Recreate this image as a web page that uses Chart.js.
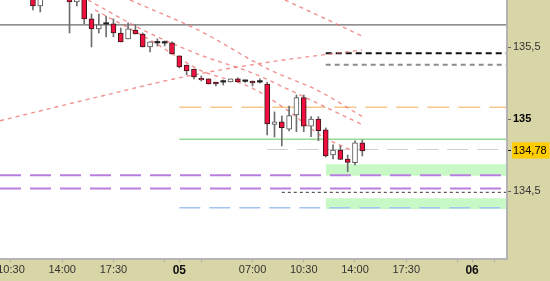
<!DOCTYPE html>
<html><head><meta charset="utf-8">
<script src="https://cdn.jsdelivr.net/npm/chart.js@4.4.1/dist/chart.umd.min.js"></script>
<style>html,body{margin:0;padding:0;background:#d8d5a6;overflow:hidden}</style>
</head><body>
<canvas id="c" width="550" height="281"></canvas>
<script>
// ---------- DATA ----------
const firstCandleSlot = 4.5; // 30-minute slots on the x axis
const opens  = [135.884,135.787,null,null,null,135.842,135.815,135.842,135.697,135.627,135.662,135.662,135.599,135.558,135.620,135.592,135.502,135.530,135.530,135.530,135.440,135.377,135.349,135.285,135.280,135.259,135.259,135.259,135.280,135.264,135.266,135.259,135.245,134.965,134.983,134.931,135.030,135.150,134.953,135.002,134.926,134.752,134.787,134.724,134.699,134.837];
const highs  = [135.912,135.884,null,null,null,135.870,135.856,135.856,135.731,135.731,135.717,135.697,135.634,135.669,135.655,135.599,135.537,135.558,135.544,135.537,135.440,135.377,135.349,135.301,135.280,135.259,135.273,135.280,135.287,135.273,135.266,135.280,135.259,135.051,135.023,135.092,135.169,135.169,135.018,135.018,134.940,134.822,134.815,134.752,134.851,134.856];
const lows   = [135.759,135.745,null,null,null,135.599,135.787,135.662,135.502,135.599,135.572,135.572,135.537,135.558,135.592,135.502,135.467,135.509,135.509,135.453,135.356,135.308,135.280,135.266,135.245,135.231,135.238,135.259,135.259,135.256,135.231,135.252,134.891,134.877,134.815,134.919,134.914,134.914,134.879,134.851,134.738,134.724,134.722,134.636,134.683,134.745];
const closes = [135.787,135.856,null,null,null,135.815,135.835,135.697,135.627,135.655,135.660,135.599,135.537,135.627,135.592,135.502,135.537,135.531,135.529,135.453,135.363,135.335,135.294,135.273,135.245,135.245,135.258,135.280,135.259,135.263,135.252,135.258,134.967,134.983,134.942,135.025,135.150,134.953,135.002,134.921,134.745,134.787,134.722,134.701,134.837,134.78];

const lastPrice = 134.78;
const yTickValues = [134.5, 134.78, 135, 135.5];

const xTickSlots  = [1.5, 8.5, 15.5, 22.5, 24.5, 27.5, 34.5, 41.5, 48.5, 55.5, 62.5, 64.5, 67.5];
const xTickLabels = ["10:30","14:00","17:30","","05","","07:00","10:30","14:00","17:30","","06",""];
const dateLabels  = ["05","06"];

// horizontal levels: price and the slot where each one starts
const levelPrices = [135.655, 135.458, 135.379, 135.083, 134.861, 134.79, 134.612, 134.52, 134.493, 134.386];
const levelStarts = [0, 44.5, 44.5, 24.5, 24.5, 36.5, 0, 0, 38.5, 24.5];
// zones: [top, bottom] and start slot
const zoneTops    = [134.687, 134.451];
const zoneBottoms = [134.608, 134.377];
const zoneStarts  = [44.5, 44.5];

// dashed trend curves (slot, price)
const riseSlots  = [0, 12.98, 25.27, 36.89, 49.45];
const risePrices = [134.990, 135.150, 135.296, 135.398, 135.481];
const fall1Slots  = [38.93, 40.98, 45.08, 49.45];
const fall1Prices = [135.828, 135.780, 135.683, 135.578];
const fall2Slots  = [17.76, 27.32, 36.89, 43.31, 49.59];
const fall2Prices = [135.828, 135.613, 135.342, 135.203, 135.016];
const fall3Slots  = [12.02, 19.54, 27.32, 34.15, 40.98, 49.59];
const fall3Prices = [135.828, 135.620, 135.447, 135.328, 135.169, 134.960];
const fall4Slots  = [12.98, 20.49, 27.32, 34.15, 39.21, 43.72, 48.5];
const fall4Prices = [135.759, 135.551, 135.342, 135.224, 135.065, 134.891, 134.773];

// ---------- STYLE / LAYOUT ----------
const X_MIN = 0, X_MAX = 69.13, Y_MIN = 134.037, Y_MAX = 135.828;
const levelStyles = [
  {c:'#6a6a6a', w:1.3, d:[]},
  {c:'#111111', w:2, d:[6,4]},
  {c:'#8c8c8c', w:2, d:[5,4]},
  {c:'#f7c78e', w:1.5, d:[22,9]},
  {c:'#93da93', w:1.5, d:[]},
  {c:'#cfcfcf', w:1, d:[21,9]},
  {c:'#b97ee0', w:2, d:[21,9]},
  {c:'#b97ee0', w:2, d:[21,9]},
  {c:'#333333', w:1, d:[3,3]},
  {c:'#a3c4f2', w:1.5, d:[21,9]}
];
const trendStyle = {borderColor:'rgba(236,110,110,0.75)', borderWidth:1.4, borderDash:[4,4]};

const idx = opens.map((o, i) => i).filter(i => opens[i] != null);
const wickData = idx.map(i => ({x: firstCandleSlot + i, y: [lows[i], highs[i]]}));
const bodyData = idx.map(i => ({x: firstCandleSlot + i, y: [Math.min(opens[i], closes[i]), Math.max(opens[i], closes[i])]}));
const kind = idx.map(i => (Math.abs(closes[i] - opens[i]) < 0.003 ? 0 : (closes[i] > opens[i] ? 1 : -1)));
const kindAt = ctx => kind[ctx.dataIndex] || 0;

const datasets = [];
datasets.push({type:'bar', label:'body', data: bodyData, grouped:false, barThickness:5, minBarLength:1.5, order:0, clip:0,
  backgroundColor: ctx => kindAt(ctx) === 1 ? '#ffffff' : (kindAt(ctx) === -1 ? '#f0103f' : '#222222'),
  borderColor: ctx => kindAt(ctx) === 1 ? '#555555' : (kindAt(ctx) === -1 ? '#3a1a1a' : '#222222'),
  borderWidth: ctx => kindAt(ctx) === 0 ? 0 : 1, borderSkipped:false});
datasets.push({type:'bar', label:'wick', data: wickData, grouped:false, barThickness:1, order:1, clip:0,
  backgroundColor:'#6e6e6e', borderWidth:0});

function curve(sl, pr){ return sl.map((s, i) => ({x: s, y: pr[i]})); }
[[riseSlots,risePrices],[fall1Slots,fall1Prices],[fall2Slots,fall2Prices],[fall3Slots,fall3Prices],[fall4Slots,fall4Prices]].forEach(([s,p]) => {
  datasets.push(Object.assign({type:'line', data: curve(s,p), pointRadius:0, tension:0.4, cubicInterpolationMode:'monotone', fill:false, order:2, clip:0}, trendStyle));
});
levelPrices.forEach((p, i) => {
  const st = levelStyles[i];
  datasets.push({type:'line', data:[{x: levelStarts[i], y:p},{x: X_MAX, y:p}], borderColor: st.c, borderWidth: st.w, borderDash: st.d, pointRadius:0, fill:false, order:3, clip:0});
});
zoneTops.forEach((t, i) => {
  datasets.push({type:'line', data:[{x: zoneStarts[i], y:t},{x: X_MAX, y:t}], borderWidth:0, borderColor:'rgba(0,0,0,0)', backgroundColor:'#c8f8c6', fill:{value: zoneBottoms[i]}, pointRadius:0, order:4, clip:0});
});

const bg = {
  id:'bg',
  beforeDraw(chart){
    const {ctx, chartArea:a} = chart;
    ctx.save();
    ctx.fillStyle = '#d8d5a6'; ctx.fillRect(0,0,chart.width,chart.height);
    ctx.fillStyle = '#ffffff'; ctx.fillRect(a.left, a.top, a.right-a.left, a.bottom-a.top);
    ctx.restore();
  },
  afterDraw(chart){
    const {ctx, chartArea:a} = chart;
    ctx.save();
    ctx.strokeStyle = '#b4b4b4'; ctx.lineWidth = 2;
    ctx.beginPath(); ctx.moveTo(a.left, a.bottom+1); ctx.lineTo(a.right+1, a.bottom+1); ctx.lineTo(a.right+1, a.top); ctx.stroke();
    ctx.restore();
  }
};

const fmt = v => String(v).replace('.', ',');
const tv = ctx => (ctx && ctx.tick) ? ctx.tick.value : null;
const isDate = ctx => ctx && ctx.index != null && dateLabels.includes(xTickLabels[ctx.index]);
const noPad = s => { s.paddingTop = 0; s.paddingBottom = 0; s.paddingLeft = 0; s.paddingRight = 0; };

new Chart(document.getElementById('c'), {
  type:'line',
  data:{datasets},
  plugins:[bg],
  options:{
    responsive:false, animation:false, devicePixelRatio:1,
    layout:{padding:0, autoPadding:false},
    plugins:{legend:{display:false}, tooltip:{enabled:false}},
    scales:{
      x:{type:'linear', min:X_MIN, max:X_MAX, offset:false,
        afterFit: s => { s.height = 23; noPad(s); },
        afterBuildTicks: s => { s.ticks = xTickSlots.map(v => ({value:v})); },
        grid:{drawOnChartArea:false, drawTicks:true, tickLength:4, color:'#a8a8a8', offset:false},
        border:{display:false},
        ticks:{autoSkip:false, maxRotation:0, padding:1,
          callback:(v, i) => xTickLabels[i],
          color: ctx => isDate(ctx) ? '#111' : '#333',
          font: ctx => ({family:'Liberation Sans, Arial, sans-serif', size: isDate(ctx) ? 12 : 11, weight: isDate(ctx) ? 'bold' : 'normal'})
        }
      },
      y:{type:'linear', position:'right', min:Y_MIN, max:Y_MAX, beginAtZero:false,
        afterFit: s => { s.width = 44; noPad(s); },
        afterBuildTicks: s => { s.ticks = yTickValues.map(v => ({value:v})); },
        grid:{drawOnChartArea:false, drawTicks:true, tickLength:5, color: ctx => tv(ctx) === lastPrice ? '#111' : '#666'},
        border:{display:false},
        ticks:{padding:2, callback: v => fmt(v),
          color: ctx => (tv(ctx) === 135 || tv(ctx) === lastPrice) ? '#000' : '#333',
          font: ctx => ({family:'Liberation Sans, Arial, sans-serif', size:11, weight: tv(ctx) === 135 ? 'bold' : 'normal'}),
          showLabelBackdrop: ctx => tv(ctx) === lastPrice,
          backdropColor:'#ffcc00',
          backdropPadding:{top:2, bottom:1, left:1, right:3}
        }
      }
    }
  }
});
</script>
</body></html>
